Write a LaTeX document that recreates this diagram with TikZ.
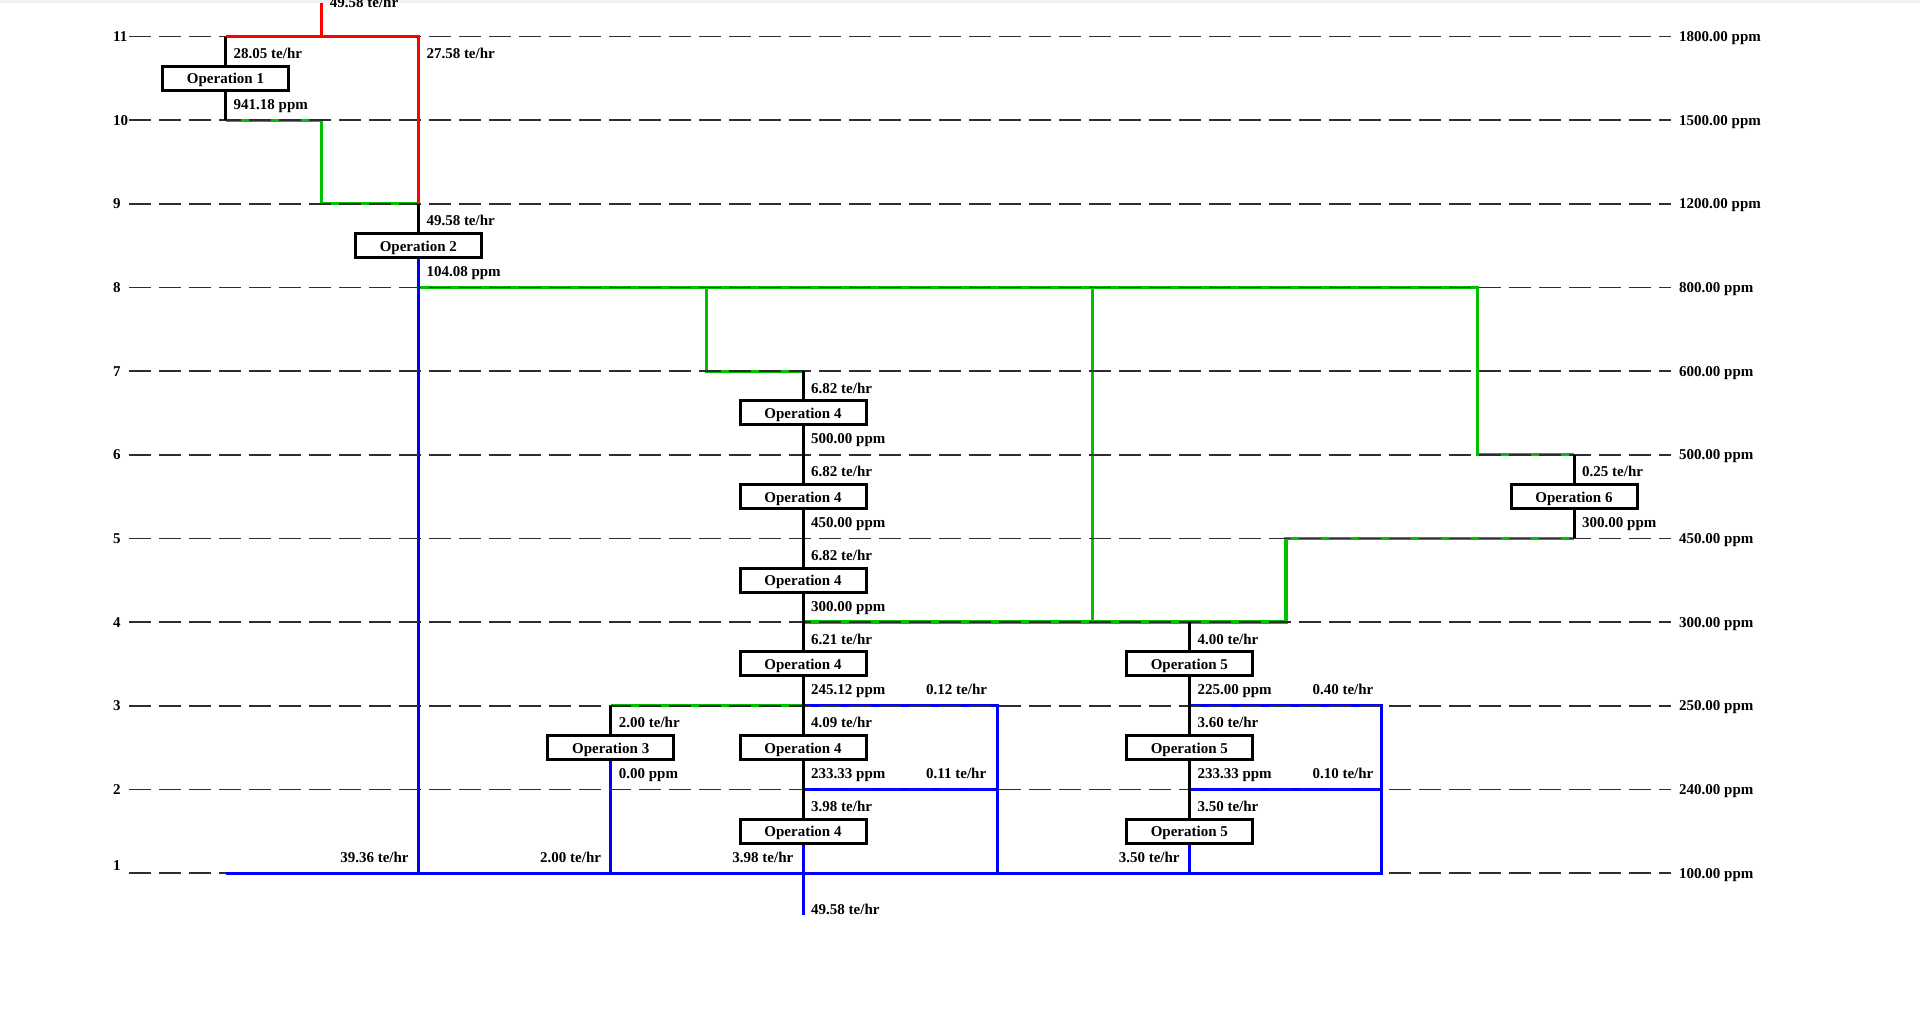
\documentclass[tikz,border=0pt]{standalone}
\usepackage{fontspec}
\setmainfont{Liberation Serif}
\newcommand\labfont{\fontsize{15}{18}\selectfont\bfseries}
\definecolor{lgreen}{RGB}{0,192,0}
\definecolor{gridc}{RGB}{45,45,45}
\definecolor{topband}{RGB}{240,240,240}
\pgfdeclarelayer{bg}
\pgfsetlayers{bg,main}
\begin{document}
\begin{tikzpicture}[x=1pt,y=-1pt,
  gridline/.style={draw=gridc, line width=1.7pt, dash pattern=on 22.3pt off 7.7pt},
  redl/.style={draw=red, line width=3pt},
  bluel/.style={draw=blue, line width=3pt},
  greenl/.style={draw=lgreen, line width=3.2pt},
  blk/.style={draw=black, line width=3pt},
  opbox/.style={draw=black, line width=3pt, fill=white, minimum width=126pt, minimum height=24pt, inner sep=0pt, text height=11pt, text depth=0pt, font=\labfont},
  lab/.style={inner sep=0pt, font=\labfont},
  inlab/.style={lab, anchor=base west, xshift=8pt, yshift=-22pt},
  outlab/.style={lab, anchor=base west, xshift=8pt, yshift=11pt},
  reclab/.style={lab, anchor=base west, xshift=123pt, yshift=11pt},
  botlab/.style={lab, anchor=base east, xshift=-9.5pt, yshift=11pt},
  numlab/.style={lab, anchor=base west, yshift=-5pt},
  ppmlab/.style={lab, anchor=base west, yshift=-5pt}]
\useasboundingbox (0,0) rectangle (1920,1029);
\clip (0,0) rectangle (1920,1029);
% levels
\foreach \k in {1,...,11}{
  \coordinate (L\k) at (0,{873-(\k-1)*83.65});
  \coordinate (M\k) at (0,{873-(\k-1)*83.65-41.825});
}
% columns
\coordinate (c1) at (225.5,0);
\coordinate (cr) at (321.7,0);
\coordinate (c2) at (418.3,0);
\coordinate (c3) at (610.7,0);
\coordinate (g1) at (706.6,0);
\coordinate (c4) at (803,0);
\coordinate (b4) at (997.5,0);
\coordinate (g2) at (1092.5,0);
\coordinate (c5) at (1189.3,0);
\coordinate (g3) at (1286,0);
\coordinate (b5) at (1381.7,0);
\coordinate (g4) at (1477.7,0);
\coordinate (c6) at (1574,0);
\coordinate (top) at (0,2.7);
\coordinate (bot) at (0,915);
% operation boxes
\node[opbox] (op1) at (c1 |- M10) {Operation 1};
\node[opbox] (op2) at (c2 |- M8) {Operation 2};
\node[opbox] (op4a) at (c4 |- M6) {Operation 4};
\node[opbox] (op4b) at (c4 |- M5) {Operation 4};
\node[opbox] (op4c) at (c4 |- M4) {Operation 4};
\node[opbox] (op4d) at (c4 |- M3) {Operation 4};
\node[opbox] (op4e) at (c4 |- M2) {Operation 4};
\node[opbox] (op4f) at (c4 |- M1) {Operation 4};
\node[opbox] (op3) at (c3 |- M2) {Operation 3};
\node[opbox] (op5a) at (c5 |- M3) {Operation 5};
\node[opbox] (op5b) at (c5 |- M2) {Operation 5};
\node[opbox] (op5c) at (c5 |- M1) {Operation 5};
\node[opbox] (op6) at (c6 |- M5) {Operation 6};
\begin{pgfonlayer}{bg}
\fill[white] (0,0) rectangle (1920,1029);
\fill[topband] (0,0) rectangle (1920,2.7);
% green lines
\draw[greenl] (c1|-L10) -- (cr|-L10) -- (cr|-L9) -- (c2|-L9);
\draw[greenl] (c2|-L8) -- (g4|-L8) -- (g4|-L6) -- (c6|-L6);
\draw[greenl] (g1|-L8) -- (g1|-L7) -- (c4|-L7);
\draw[greenl] (g2|-L8) -- (g2|-L4);
\draw[greenl] (c4|-L4) -- (g3|-L4) -- (g3|-L5) -- (c6|-L5);
\draw[greenl] (c3|-L3) -- (c4|-L3);
% blue lines
\draw[bluel] (op2.south) -- (c2|-L1);
\draw[bluel] (op3.south) -- (c3|-L1);
\draw[bluel] (op4f.south) -- (c4|-bot);
\draw[bluel] (op5c.south) -- (c5|-L1);
\draw[bluel] (c4|-L3) -- (b4|-L3) -- (b4|-L1);
\draw[bluel] (c4|-L2) -- (b4|-L2);
\draw[bluel] (c5|-L3) -- (b5|-L3) -- (b5|-L2);
\draw[bluel] (c5|-L2) -- (b5|-L2);
% dashed level lines
\foreach \k in {1,...,11}{
  \draw[gridline] (129,{873-(\k-1)*83.65}) -- (1671,{873-(\k-1)*83.65});
}
% red and bottom blue
\draw[redl] (cr|-top) -- (cr|-L11);
\draw[redl] (c1|-L11) -- (c2|-L11) -- (c2|-L9);
\draw[bluel] (c1|-L1) -- (b5|-L1) -- (b5|-L2);
% black stubs
\draw[blk] (c1|-L11) -- (c1|-L10);
\draw[blk] (c2|-L9) -- (op2.north);
\draw[blk] (c3|-L3) -- (op3.north);
\draw[blk] (c4|-L7) -- (op4f.north);
\draw[blk] (c5|-L4) -- (op5c.north);
\draw[blk] (c6|-L6) -- (c6|-L5);
\end{pgfonlayer}
% left level numbers
\node[lab, anchor=base west, yshift=3pt] (num1) at (113,873) {1};
\foreach \k in {2,...,11}{
  \node[numlab] (num\k) at (113,{873-(\k-1)*83.65}) {\k};
}
% right concentration labels
\foreach \k/\v in {1/100.00,2/240.00,3/250.00,4/300.00,5/450.00,6/500.00,7/600.00,8/800.00,9/1200.00,10/1500.00,11/1800.00}{
  \node[ppmlab] (ppm\k) at (1679,{873-(\k-1)*83.65}) {\v{} ppm};
}
% stream labels
\node[lab, anchor=base west, xshift=8pt, yshift=-4.6pt] (ttop) at (cr|-top) {49.58 te/hr};
\node[inlab] (t1in) at (c1|-L11) {28.05 te/hr};
\node[outlab] (t1out) at (c1|-L10) {941.18 ppm};
\node[inlab] (tred) at (c2|-L11) {27.58 te/hr};
\node[inlab] (t2in) at (c2|-L9) {49.58 te/hr};
\node[outlab] (t2out) at (c2|-L8) {104.08 ppm};
\node[inlab] (t4ain) at (c4|-L7) {6.82 te/hr};
\node[outlab] (t4aout) at (c4|-L6) {500.00 ppm};
\node[inlab] (t4bin) at (c4|-L6) {6.82 te/hr};
\node[outlab] (t4bout) at (c4|-L5) {450.00 ppm};
\node[inlab] (t4cin) at (c4|-L5) {6.82 te/hr};
\node[outlab] (t4cout) at (c4|-L4) {300.00 ppm};
\node[inlab] (t4din) at (c4|-L4) {6.21 te/hr};
\node[outlab] (t4dout) at (c4|-L3) {245.12 ppm};
\node[reclab] (t4drec) at (c4|-L3) {0.12 te/hr};
\node[inlab] (t4ein) at (c4|-L3) {4.09 te/hr};
\node[outlab] (t4eout) at (c4|-L2) {233.33 ppm};
\node[reclab] (t4erec) at (c4|-L2) {0.11 te/hr};
\node[inlab] (t4fin) at (c4|-L2) {3.98 te/hr};
\node[botlab] (t4fbot) at (c4|-L1) {3.98 te/hr};
\node[inlab] (t3in) at (c3|-L3) {2.00 te/hr};
\node[outlab] (t3out) at (c3|-L2) {0.00 ppm};
\node[botlab] (t3bot) at (c3|-L1) {2.00 te/hr};
\node[botlab] (t2bot) at (c2|-L1) {39.36 te/hr};
\node[lab, anchor=base west, xshift=8pt, yshift=0.7pt] (tfinal) at (c4|-bot) {49.58 te/hr};
\node[inlab] (t5ain) at (c5|-L4) {4.00 te/hr};
\node[outlab] (t5aout) at (c5|-L3) {225.00 ppm};
\node[reclab] (t5arec) at (c5|-L3) {0.40 te/hr};
\node[inlab] (t5bin) at (c5|-L3) {3.60 te/hr};
\node[outlab] (t5bout) at (c5|-L2) {233.33 ppm};
\node[reclab] (t5brec) at (c5|-L2) {0.10 te/hr};
\node[inlab] (t5cin) at (c5|-L2) {3.50 te/hr};
\node[botlab] (t5cbot) at (c5|-L1) {3.50 te/hr};
\node[inlab] (t6in) at (c6|-L6) {0.25 te/hr};
\node[outlab] (t6out) at (c6|-L5) {300.00 ppm};
\end{tikzpicture}
\end{document}
